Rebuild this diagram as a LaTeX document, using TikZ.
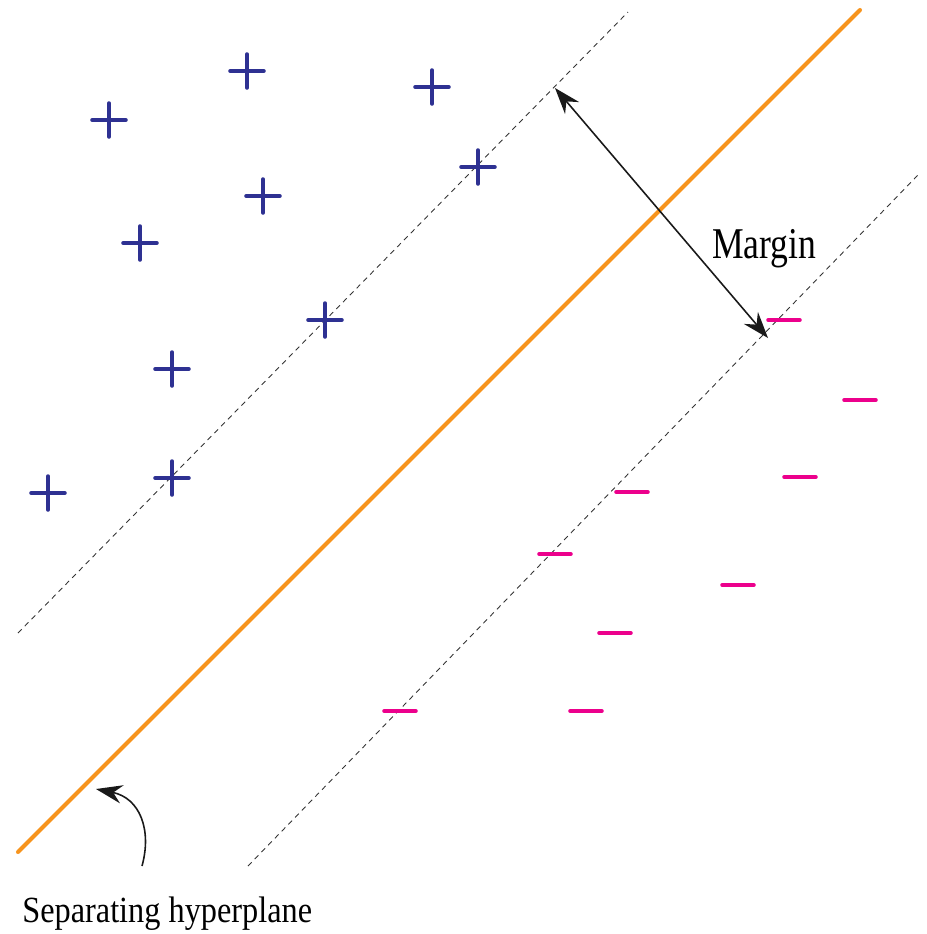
\documentclass[tikz,border=0pt]{standalone}
\usepackage{fontspec}
\setmainfont{Liberation Serif}
\usetikzlibrary{arrows.meta}
\definecolor{svmblue}{HTML}{2E3192}
\definecolor{svmpink}{HTML}{EC008C}
\definecolor{svmorange}{HTML}{F7941D}
\definecolor{svmgray}{HTML}{333333}

\begin{document}
\begin{tikzpicture}[x=0.02cm,y=-0.02cm,>={Stealth[length=15pt,width=10.5pt,inset=5pt]}]
  \useasboundingbox (0,0) rectangle (927,934);
  % margins and hyperplane
  \draw[svmgray,line width=0.5pt,dash pattern=on 3pt off 2.5pt] (18,633) -- (628,12);
  \draw[svmgray,line width=0.5pt,dash pattern=on 3pt off 2.5pt] (248,866) -- (918,175);
  \draw[svmorange,line width=2.3pt,line cap=round] (18,852) -- (860,10);
  % positive class
  \foreach \x/\y in {247/71,432/87,109/120,478/167,263/196,140/243,325/320,172/369,172/478,48/493}
    \draw[svmblue,line width=2pt,line cap=round] (\x-17,\y) -- (\x+17,\y) (\x,\y-17) -- (\x,\y+17);
  % negative class
  \foreach \x/\y in {784/320,860/400,800/477,632/492,555/554,738/585,615/633,400/711,586/711}
    \draw[svmpink,line width=2pt,line cap=round] (\x-16,\y) -- (\x+16,\y);
  % margin arrow
  \coordinate (mtop) at (555,88);
  \coordinate (mbot) at (768,338);
  \draw[<->,line width=0.9pt,black!90] (mtop) -- (mbot);
  \node[anchor=base west,inner sep=0pt,xscale=0.81,font=\fontsize{25}{30}\selectfont] (margin) at (712,258) {Margin};
  % hyperplane label
  \node[anchor=base west,inner sep=0pt,xscale=0.876,font=\fontsize{21}{25}\selectfont] (hyper) at (22,922) {Separating hyperplane};
  \coordinate (hstart) at (142,866);
  \coordinate (htip) at (96,789);
  \draw[->,line width=0.9pt,black!90] (hstart) .. controls (152,830) and (140,798) .. (htip);
\end{tikzpicture}
\end{document}
